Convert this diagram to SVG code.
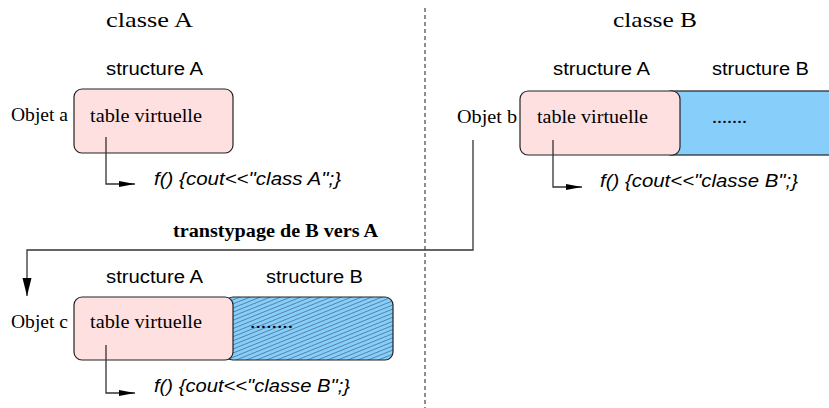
<svg xmlns="http://www.w3.org/2000/svg" width="829" height="408" viewBox="0 0 829 408">
<style>
.title{font-family:"Liberation Serif","Times New Roman",serif;font-size:22px;fill:#000}
.struct{font-family:"Liberation Sans",Arial,sans-serif;font-size:18px;fill:#000}
.serif{font-family:"Liberation Serif","Times New Roman",serif;font-size:19px;fill:#000}
.code{font-family:"Liberation Sans",Arial,sans-serif;font-size:18px;font-style:italic;fill:#000}
.bold{font-family:"Liberation Serif","Times New Roman",serif;font-size:18px;font-weight:bold;fill:#000}
.pink{fill:#FFE0E0;stroke:#222;stroke-width:1.2}
.blue{fill:#87CEFA;stroke:#222;stroke-width:1.2}
.conn{fill:none;stroke:#333;stroke-width:1.3}
</style>
<defs>
<marker id="ah" markerUnits="userSpaceOnUse" markerWidth="17" markerHeight="8" refX="16" refY="4" orient="auto">
<path d="M0,1 L16,4 L0,7 z" fill="#000"/>
</marker>
<marker id="ahv" markerUnits="userSpaceOnUse" markerWidth="19" markerHeight="10" refX="18" refY="5" orient="auto">
<path d="M0,0.5 L18,5 L0,9.5 z" fill="#000"/>
</marker>
<pattern id="hatch" patternUnits="userSpaceOnUse" width="8" height="3.8" patternTransform="rotate(-22)">
<rect width="8" height="3.8" fill="#87CEFA"/>
<line x1="0" y1="0.4" x2="8" y2="0.4" stroke="#2a4a66" stroke-width="0.6"/>
</pattern>
</defs>

<line x1="425" y1="8" x2="425" y2="408" stroke="#444" stroke-width="1.2" stroke-dasharray="4 3"/>

<text class="title" x="106" y="27" textLength="87" lengthAdjust="spacingAndGlyphs">classe A</text>
<text class="title" x="613" y="27" textLength="84" lengthAdjust="spacingAndGlyphs">classe B</text>

<g id="objet-a">
<text class="struct" x="106" y="75" textLength="97" lengthAdjust="spacingAndGlyphs">structure A</text>
<rect class="pink" x="74" y="89" width="159" height="64" rx="8"/>
<text class="serif" x="11" y="121" textLength="57" lengthAdjust="spacingAndGlyphs">Objet a</text>
<text class="serif" x="90" y="122" textLength="112" lengthAdjust="spacingAndGlyphs">table virtuelle</text>
<text class="code" x="154" y="185" textLength="187" lengthAdjust="spacingAndGlyphs">f() {cout&lt;&lt;"class A";}</text>
</g>

<g id="objet-b">
<text class="struct" x="553" y="75" textLength="97" lengthAdjust="spacingAndGlyphs">structure A</text>
<text class="struct" x="712" y="75" textLength="97" lengthAdjust="spacingAndGlyphs">structure B</text>
<rect class="blue" x="670" y="91" width="175" height="64"/>
<rect class="pink" x="520" y="91" width="160" height="64" rx="8"/>
<text class="serif" x="457" y="123" textLength="60" lengthAdjust="spacingAndGlyphs">Objet b</text>
<text class="serif" x="537" y="123" textLength="111" lengthAdjust="spacingAndGlyphs">table virtuelle</text>
<text class="serif" x="712" y="123" textLength="35" lengthAdjust="spacingAndGlyphs">.......</text>
<text class="code" x="600" y="187" textLength="198" lengthAdjust="spacingAndGlyphs">f() {cout&lt;&lt;"classe B";}</text>
</g>

<g id="objet-c">
<text class="struct" x="106" y="283" textLength="97" lengthAdjust="spacingAndGlyphs">structure A</text>
<text class="struct" x="266" y="283" textLength="97" lengthAdjust="spacingAndGlyphs">structure B</text>
<rect x="225" y="297" width="168" height="63" rx="8" fill="url(#hatch)" stroke="#222" stroke-width="1.2"/>
<rect class="pink" x="74" y="297" width="159" height="63" rx="8"/>
<text class="serif" x="11" y="328" textLength="57" lengthAdjust="spacingAndGlyphs">Objet c</text>
<text class="serif" x="90" y="328" textLength="112" lengthAdjust="spacingAndGlyphs">table virtuelle</text>
<text class="serif" x="250" y="328" textLength="43" lengthAdjust="spacingAndGlyphs">........</text>
<text class="code" x="154" y="392" textLength="196" lengthAdjust="spacingAndGlyphs">f() {cout&lt;&lt;"classe B";}</text>
</g>

<g id="connectors">
<path class="conn" d="M106,137 V184 H135" marker-end="url(#ah)"/>
<path class="conn" d="M553,140 V187 H582" marker-end="url(#ah)"/>
<path class="conn" d="M106,345 V393 H135" marker-end="url(#ah)"/>
<path class="conn" d="M473,140 V250 H27 V296" marker-end="url(#ahv)"/>
<text class="bold" x="173" y="237" textLength="205" lengthAdjust="spacingAndGlyphs">transtypage de B vers A</text>
</g>
</svg>
